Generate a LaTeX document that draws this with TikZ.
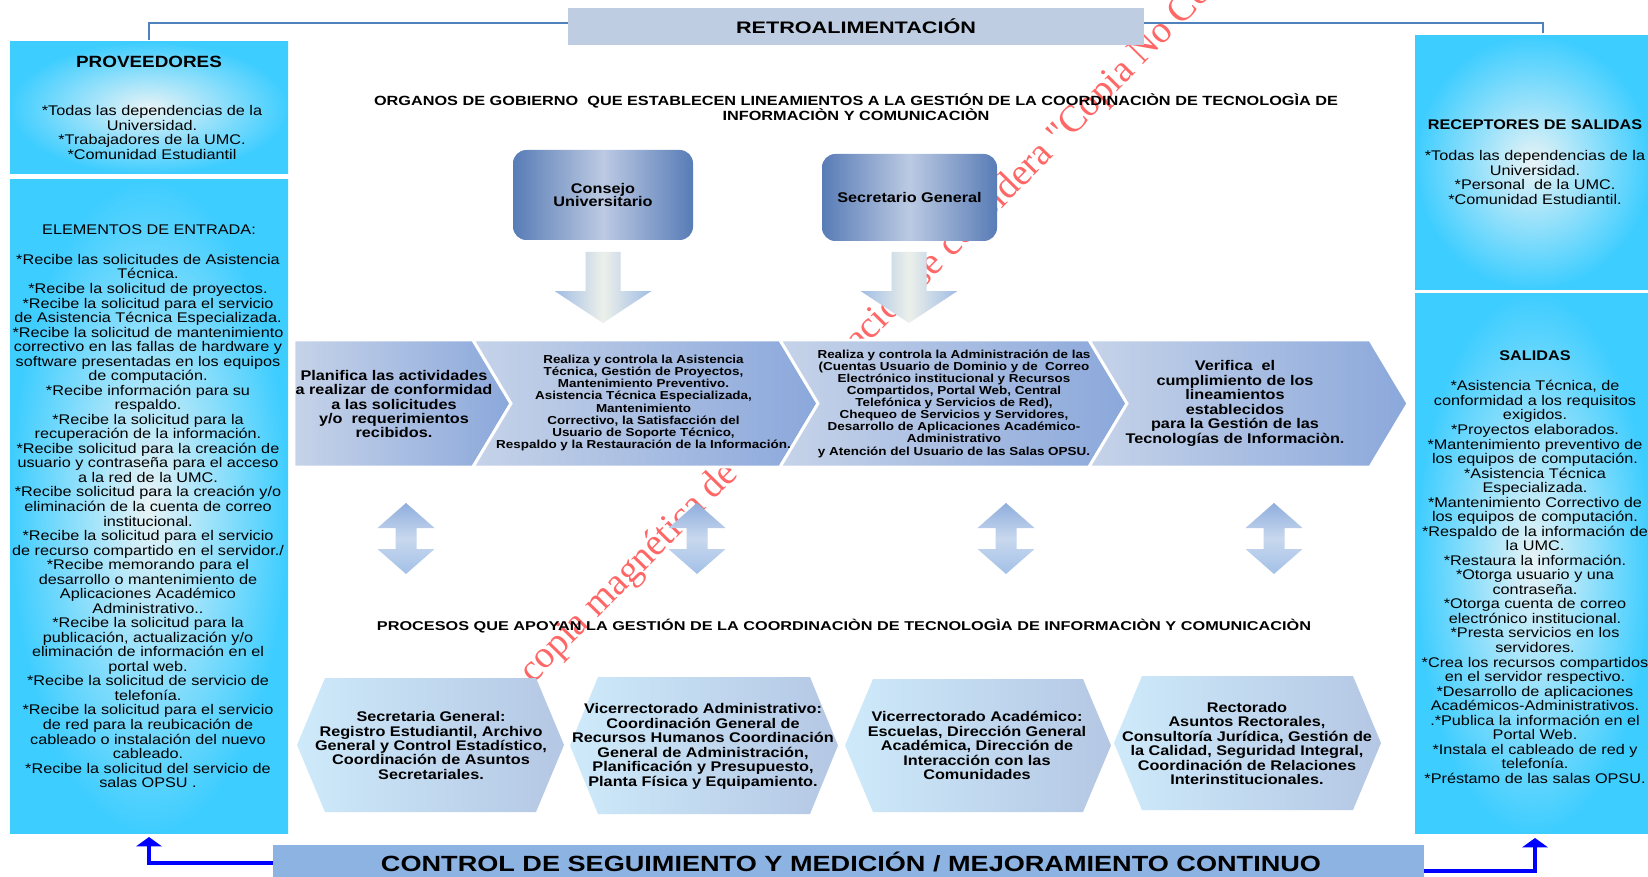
\documentclass[tikz,border=0pt]{standalone}
\usepackage{fontspec}
\setmainfont{Liberation Sans}[FakeStretch=1.16]
\newfontfamily\plainsans{Liberation Sans}
\newfontfamily\wmserif{Liberation Serif}
\usepackage{graphicx}
\usetikzlibrary{arrows.meta}
\newdimen\px \px=0.75pt
\definecolor{cyanout}{RGB}{62,205,255}
\definecolor{cyanin}{RGB}{232,243,246}
\definecolor{govedge}{RGB}{88,124,182}
\definecolor{govmid}{RGB}{188,202,227}
\definecolor{chevL}{RGB}{198,211,233}
\definecolor{chevR}{RGB}{139,168,219}
\definecolor{hexL}{RGB}{206,234,250}
\definecolor{hexR}{RGB}{180,199,228}
\definecolor{retrofill}{RGB}{190,205,226}
\definecolor{barfill}{RGB}{141,179,226}
\definecolor{fbcol}{RGB}{79,129,189}
\definecolor{dblA}{RGB}{143,174,221}
\definecolor{dblB}{RGB}{200,216,238}
\definecolor{dblC}{RGB}{163,192,231}
\definecolor{dnSide}{RGB}{160,188,228}
\definecolor{dnMid}{RGB}{236,240,234}
\definecolor{pureblue}{RGB}{0,0,255}
\newcommand\hd[2]{\resizebox{#1\px}{\height}{#2}}
\begin{document}
\begin{tikzpicture}[x=0.75pt,y=-0.75pt,
  every node/.style={inner sep=0pt, outer sep=0pt},
  cbox/.style={draw=none, inner color=cyanin, outer color=cyanout},
  txt/.style={align=center, text=black},
  body/.style={txt, font=\fontsize{10.5pt}{10.9pt}\selectfont},
  ttl/.style={txt, font=\fontsize{10.5pt}{12pt}\selectfont\bfseries},
  bigb/.style={txt, font=\fontsize{10.5pt}{10.85pt}\selectfont\bfseries},
  smallb/.style={txt, font=\fontsize{8.7pt}{9.1pt}\selectfont\bfseries},
  gov/.style={txt, rounded corners=10pt, left color=govedge, right color=govedge, middle color=govmid, font=\fontsize{10.5pt}{10.3pt}\selectfont\bfseries},
  chev/.style={left color=chevL, right color=chevR, draw=white, line width=2.2pt},
  hexa/.style={left color=hexL, right color=hexR},
  dnarrow/.style={left color=dnSide, right color=dnSide, middle color=dnMid},
  dblarrow/.style={top color=dblA, bottom color=dblC, middle color=dblB},
  fb/.style={draw=fbcol, line width=2.2pt},
  barrow/.style={draw=pureblue, line width=3pt, -{Triangle[width=19pt,length=7pt]}},
  wm/.style={text=red, text opacity=0.6, font=\wmserif\fontsize{28.5pt}{30pt}\selectfont}
]
\clip (0,0) rectangle (1648,877);
\fill[white] (0,0) rectangle (1648,877);

% watermark (under everything)
\node[wm, rotate=45.4, anchor=base west] (wmark) at (533,684) {copia magnética de la Coordinación se considera "Copia No Controlada"};

% feedback box and line
\node[fill=retrofill, minimum width=576\px, minimum height=37\px] (retro) at (856,26.5)
  {\hd{240}{\plainsans\fontsize{12.5pt}{13pt}\selectfont\bfseries RETROALIMENTACIÓN}};
\coordinate (fbl) at (149,40);
\coordinate (fbr) at (1543,33);
\draw[fb] (fbl) |- ([yshift=2.6pt]retro.west);
\draw[fb] (fbr) |- ([yshift=2.6pt]retro.east);

% left column
\node[cbox, minimum width=278\px, minimum height=132\px, anchor=north west] (prov) at (10,42) {};
\node[txt, font=\fontsize{12.2pt}{13pt}\selectfont\bfseries] (provt) at (149,62) {PROVEEDORES};
\node[body] (provb) at (152,132.5) {*Todas las dependencias de la\\Universidad.\\*Trabajadores de la UMC.\\*Comunidad Estudiantil};

\node[cbox, minimum width=278\px, minimum height=653\px, anchor=north west] (elem) at (10,180) {};
\node[body] (elemt) at (149,230) {ELEMENTOS DE ENTRADA:};
\node[body] (elemb) at (148,521) {*Recibe las solicitudes de Asistencia\\Técnica.\\*Recibe la solicitud de proyectos.\\*Recibe la solicitud para el servicio\\de Asistencia Técnica Especializada.\\*Recibe la solicitud de mantenimiento\\correctivo en las fallas de hardware y\\software presentadas en los equipos\\de computación.\\*Recibe información para su\\respaldo.\\*Recibe la solicitud para la\\recuperación de la información.\\*Recibe solicitud para la creación de\\usuario y contraseña para el acceso\\a la red de la UMC.\\*Recibe solicitud para la creación y/o\\eliminación de la cuenta de correo\\institucional.\\*Recibe la solicitud para el servicio\\de recurso compartido en el servidor./\\*Recibe memorando para el\\desarrollo o mantenimiento de\\Aplicaciones Académico\\Administrativo..\\*Recibe la solicitud para la\\publicación, actualización y/o\\eliminación de información en el\\portal web.\\*Recibe la solicitud de servicio de\\telefonía.\\*Recibe la solicitud para el servicio\\de red para la reubicación de\\cableado o instalación del nuevo\\cableado.\\*Recibe la solicitud del servicio de\\salas OPSU .};

% right column
\node[cbox, minimum width=236\px, minimum height=253\px, anchor=north west] (recep) at (1415,36) {};
\node[ttl] (recept) at (1535,125) {RECEPTORES DE SALIDAS};
\node[body] (recepb) at (1535,177.5) {*Todas las dependencias de la\\Universidad.\\*Personal~ de la UMC.\\*Comunidad Estudiantil.};

\node[cbox, minimum width=236\px, minimum height=540\px, anchor=north west] (sal) at (1415,293) {};
\node[ttl] (salt) at (1535,356) {SALIDAS};
\node[body] (salb) at (1535,582) {*Asistencia Técnica, de\\conformidad a los requisitos\\exigidos.\\*Proyectos elaborados.\\*Mantenimiento preventivo de\\los equipos de computación.\\*Asistencia Técnica\\Especializada.\\*Mantenimiento Correctivo de\\los equipos de computación.\\*Respaldo de la información de\\la UMC.\\*Restaura la información.\\*Otorga usuario y una\\contraseña.\\*Otorga cuenta de correo\\electrónico institucional.\\*Presta servicios en los\\servidores.\\*Crea los recursos compartidos\\en el servidor respectivo.\\*Desarrollo de aplicaciones\\Académicos-Administrativos.\\.*Publica la información en el\\Portal Web.\\*Instala el cableado de red y\\telefonía.\\*Préstamo de las salas OPSU.};

% top heading
\node[txt] (org1) at (856,101) {\hd{964}{\plainsans\fontsize{10pt}{11pt}\selectfont\bfseries ORGANOS DE GOBIERNO~ QUE ESTABLECEN LINEAMIENTOS A LA GESTIÓN DE LA COORDINACIÒN DE TECNOLOGÌA DE}};
\node[txt] (org2) at (856,114.5) {\hd{267}{\plainsans\fontsize{10pt}{11pt}\selectfont\bfseries INFORMACIÒN Y COMUNICACIÒN}};

% governing bodies
\node[gov, minimum width=180\px, minimum height=90\px] (consejo) at (603,195) {Consejo\\Universitario};
\node[gov, minimum width=175\px, minimum height=87\px] (secgen) at (909.5,197.5) {Secretario General};

% down arrows
\foreach \cx in {603,909}{
  \path[dnarrow] ({\cx-17.5},252) -- ({\cx+17.5},252) -- ({\cx+17.5},291) -- ({\cx+48.5},291) -- (\cx,323) -- ({\cx-48.5},291) -- ({\cx-17.5},291) -- cycle;
}

% chevrons
\path[chev] (294,340) -- (473,340) -- (511,403.5) -- (473,467) -- (294,467) -- cycle;
\path[chev] (473,340) -- (780,340) -- (818,403.5) -- (780,467) -- (473,467) -- (511,403.5) -- cycle;
\path[chev] (780,340) -- (1089,340) -- (1127,403.5) -- (1089,467) -- (780,467) -- (818,403.5) -- cycle;
\path[chev] (1089,340) -- (1370,340) -- (1408,403.5) -- (1370,467) -- (1089,467) -- (1127,403.5) -- cycle;
\node[bigb] (ch1) at (394,404) {Planifica las actividades\\a realizar de conformidad\\a las solicitudes\\y/o~ requerimientos\\recibidos.};
\node[smallb] (ch2) at (643.5,403) {Realiza y controla la Asistencia\\Técnica, Gestión de Proyectos,\\Mantenimiento Preventivo.\\Asistencia Técnica Especializada,\\Mantenimiento\\Correctivo, la Satisfacción del\\Usuario de Soporte Técnico,\\Respaldo y la Restauración de la Información.};
\node[smallb] (ch3) at (954,403.5) {Realiza y controla la Administración de las\\(Cuentas Usuario de Dominio y de~ Correo\\Electrónico institucional y Recursos\\Compartidos, Portal Web, Central\\Telefónica y Servicios de Red),\\Chequeo de Servicios y Servidores,\\Desarrollo de Aplicaciones Académico-\\Administrativo\\y Atención del Usuario de las Salas OPSU.};
\node[bigb] (ch4) at (1235,403.5) {Verifica~ el\\cumplimiento de los\\lineamientos\\establecidos\\para la Gestión de las\\Tecnologías de Informaciòn.};

% double arrows
\foreach \cx in {406,697,1006,1274}{
  \path[dblarrow] (\cx,503) -- ({\cx+28.5},528) -- ({\cx+10.5},528) -- ({\cx+10.5},549) -- ({\cx+28.5},549) -- (\cx,574) -- ({\cx-28.5},549) -- ({\cx-10.5},549) -- ({\cx-10.5},528) -- ({\cx-28.5},528) -- cycle;
}

% support processes heading
\node[txt] (proc) at (844,626) {\hd{934}{\plainsans\fontsize{9.6pt}{10pt}\selectfont\bfseries PROCESOS QUE APOYAN LA GESTIÓN DE LA COORDINACIÒN DE TECNOLOGÌA DE INFORMACIÒN Y COMUNICACIÒN}};

% hexagons
\path[hexa] (297,745) -- (325,678) -- (536,678) -- (564,745) -- (536,812) -- (325,812) -- cycle;
\path[hexa] (570,745.5) -- (598,677) -- (810,677) -- (838,745.5) -- (810,814) -- (598,814) -- cycle;
\path[hexa] (845,745.5) -- (873,679) -- (1083,679) -- (1111,745.5) -- (1083,812) -- (873,812) -- cycle;
\path[hexa] (1114,743) -- (1142,676) -- (1353,676) -- (1381,743) -- (1353,810) -- (1142,810) -- cycle;
\node[bigb] (hx1) at (431,745.5) {Secretaria General:\\Registro Estudiantil, Archivo\\General y Control Estadístico,\\Coordinación de Asuntos\\Secretariales.};
\node[bigb] (hx2) at (703,746.5) {Vicerrectorado Administrativo:\\Coordinación General de\\Recursos Humanos Coordinación\\General de Administración,\\Planificación y Presupuesto,\\Planta Física y Equipamiento.};
\node[bigb] (hx3) at (977,745.5) {Vicerrectorado Académico:\\Escuelas, Dirección General\\Académica, Dirección de\\Interacción con las\\Comunidades};
\node[bigb] (hx4) at (1247,743.5) {Rectorado\\Asuntos Rectorales,\\Consultoría Jurídica, Gestión de\\la Calidad, Seguridad Integral,\\Coordinación de Relaciones\\Interinstitucionales.};

% bottom bar and arrows
\node[fill=barfill, minimum width=1151\px, minimum height=36\px, anchor=north west] (ctrl) at (273,845) {};
\node[txt] (ctrlt) at (851,862) {\hd{940}{\plainsans\fontsize{16.5pt}{18pt}\selectfont\bfseries CONTROL DE SEGUIMIENTO Y MEDICIÓN / MEJORAMIENTO CONTINUO}};
\coordinate (lt) at (149,837);
\coordinate (rt) at (1535,838);
\draw[barrow] (ctrl.west) -| (lt);
\draw[barrow] ([yshift=-6pt]ctrl.east) -| (rt);
\end{tikzpicture}
\end{document}
